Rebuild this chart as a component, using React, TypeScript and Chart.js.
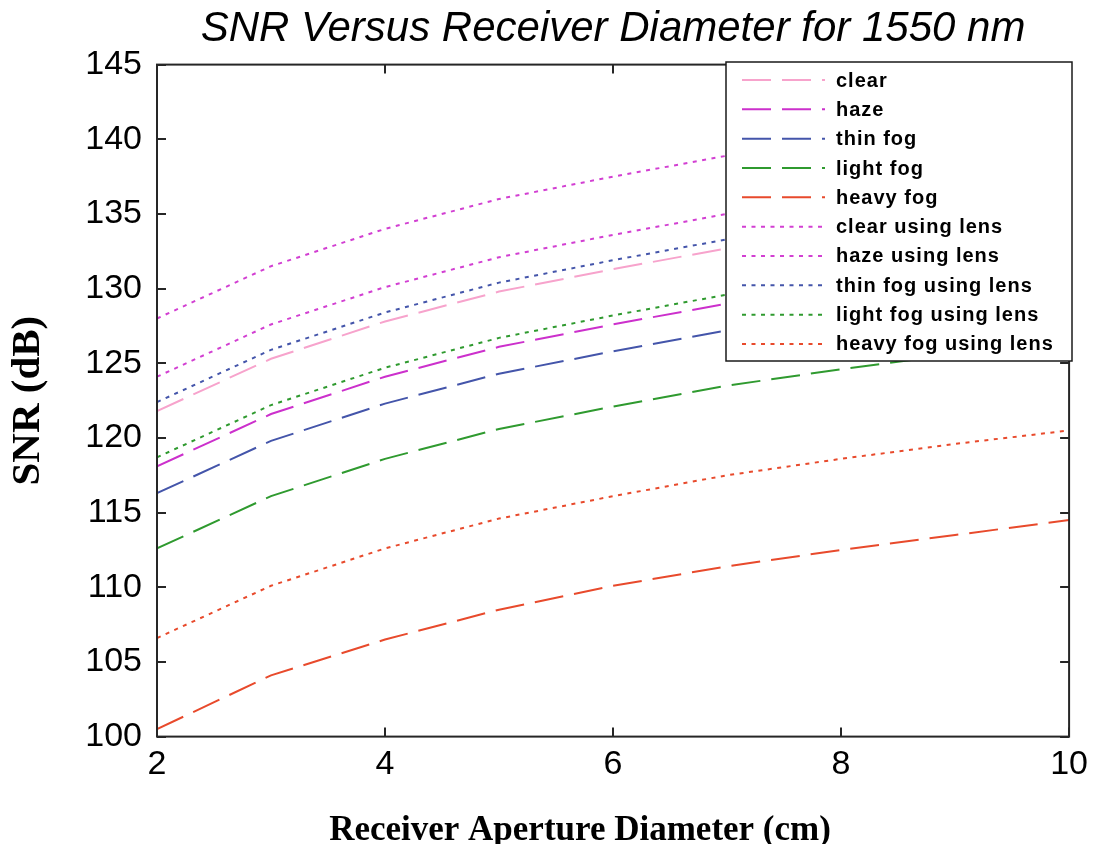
import React, { useEffect, useRef } from "react";
import { Chart, registerables } from "chart.js";

Chart.register(...registerables);

const diameters = [2, 3, 4, 5, 6, 7, 8, 9, 10];

const clear = [121.8, 125.3, 127.8, 129.8, 131.3, 132.7, 133.8, 134.8, 135.8];
const haze = [118.1, 121.6, 124.1, 126.1, 127.6, 129.0, 130.1, 131.1, 132.1];
const thinFog = [116.3, 119.8, 122.3, 124.3, 125.8, 127.2, 128.3, 129.3, 130.3];
const lightFog = [112.6, 116.1, 118.6, 120.6, 122.1, 123.5, 124.6, 125.6, 126.6];
const heavyFog = [100.5, 104.1, 106.5, 108.5, 110.1, 111.4, 112.5, 113.5, 114.5];
const clearLens = [128.0, 131.5, 134.0, 136.0, 137.5, 138.9, 140.0, 141.0, 142.0];
const hazeLens = [124.1, 127.6, 130.1, 132.1, 133.6, 135.0, 136.1, 137.1, 138.1];
const thinFogLens = [122.4, 125.9, 128.4, 130.4, 131.9, 133.3, 134.4, 135.4, 136.4];
const lightFogLens = [118.7, 122.2, 124.7, 126.7, 128.2, 129.6, 130.7, 131.7, 132.7];
const heavyFogLens = [106.6, 110.1, 112.6, 114.6, 116.1, 117.5, 118.6, 119.6, 120.5];

const seriesLabels = [
  "clear",
  "haze",
  "thin fog",
  "light fog",
  "heavy fog",
  "clear using lens",
  "haze using lens",
  "thin fog using lens",
  "light fog using lens",
  "heavy fog using lens",
];
const seriesValues = [
  clear, haze, thinFog, lightFog, heavyFog,
  clearLens, hazeLens, thinFogLens, lightFogLens, heavyFogLens,
];
const seriesColors = [
  "#f7a3cc", "#cc30cc", "#4455aa", "#2f9a2f", "#e84a2c",
  "#d23fd2", "#d23fd2", "#4455aa", "#2f9a2f", "#e84a2c",
];
const DASHED = [29, 11];
const DOTTED = [4, 5.5];

const xTicks = [2, 4, 6, 8, 10];
const yTicks = [100, 105, 110, 115, 120, 125, 130, 135, 140, 145];

const framePlugin = {
  id: "frameTicks",
  afterDatasetsDraw(chart: any) {
    const { ctx, chartArea } = chart;
    const { left, right, top, bottom } = chartArea;
    const xs = chart.scales.x;
    const ys = chart.scales.y;
    ctx.save();
    ctx.strokeStyle = "#262626";
    ctx.lineWidth = 2;
    ctx.setLineDash([]);
    ctx.strokeRect(left, top, right - left, bottom - top);
    const tl = 9;
    ctx.beginPath();
    xTicks.forEach((v) => {
      const px = Math.round(xs.getPixelForValue(v));
      ctx.moveTo(px, bottom);
      ctx.lineTo(px, bottom - tl);
      ctx.moveTo(px, top);
      ctx.lineTo(px, top + tl);
    });
    yTicks.forEach((v) => {
      const py = Math.round(ys.getPixelForValue(v));
      ctx.moveTo(left, py);
      ctx.lineTo(left + tl, py);
      ctx.moveTo(right, py);
      ctx.lineTo(right - tl, py);
    });
    ctx.stroke();
    ctx.restore();
  },
};

const legendPlugin = {
  id: "overlayLegend",
  afterDraw(chart: any) {
    const { ctx } = chart;
    const bx = 726, by = 62, bw = 346, bh = 299;
    ctx.save();
    ctx.fillStyle = "#ffffff";
    ctx.fillRect(bx, by, bw, bh);
    ctx.strokeStyle = "#1a1a1a";
    ctx.lineWidth = 1.5;
    ctx.setLineDash([]);
    ctx.strokeRect(bx, by, bw, bh);
    chart.data.datasets.forEach((ds: any, i: number) => {
      const y = 80 + i * 29.33;
      ctx.strokeStyle = ds.borderColor;
      ctx.lineWidth = 2;
      ctx.setLineDash(ds.borderDash || []);
      ctx.beginPath();
      ctx.moveTo(742, y);
      ctx.lineTo(825, y);
      ctx.stroke();
      ctx.setLineDash([]);
      ctx.fillStyle = "#000000";
      ctx.font = "bold 20px 'Liberation Sans', Arial, sans-serif";
      (ctx as any).letterSpacing = "1px";
      ctx.textBaseline = "middle";
      ctx.textAlign = "left";
      ctx.fillText(ds.label, 836, y + 1);
    });
    ctx.restore();
  },
};

const xTitlePlugin = {
  id: "xTitle",
  afterDraw(chart: any) {
    const { ctx } = chart;
    ctx.save();
    ctx.fillStyle = "#000000";
    ctx.font = "bold 35px 'Liberation Serif', 'Times New Roman', serif";
    ctx.textAlign = "center";
    ctx.textBaseline = "alphabetic";
    ctx.fillText("Receiver Aperture Diameter (cm)", 580, 840);
    ctx.restore();
  },
};

export default function App() {
  const canvasRef = useRef<HTMLCanvasElement | null>(null);

  useEffect(() => {
    document.body.style.margin = "0";
    const canvas = canvasRef.current;
    if (!canvas) return;
    const datasets = seriesLabels.map((label, i) => ({
      label,
      data: diameters.map((d, j) => ({ x: d, y: seriesValues[i][j] })),
      borderColor: seriesColors[i],
      backgroundColor: seriesColors[i],
      borderWidth: 2,
      borderDash: i < 5 ? DASHED : DOTTED,
      pointRadius: 0,
      tension: 0,
      fill: false,
    }));
    const chart = new Chart(canvas, {
      type: "line",
      data: { datasets },
      options: {
        animation: false,
        responsive: false,
        devicePixelRatio: 1,
        layout: { padding: { left: 0, right: 26, top: 0, bottom: 0 } },
        plugins: {
          legend: { display: false },
          tooltip: { enabled: false },
          title: {
            display: true,
            fullSize: false,
            text: "SNR Versus Receiver Diameter for 1550 nm",
            color: "#000000",
            font: { family: "'Liberation Sans', Arial, sans-serif", size: 42, style: "italic", weight: "normal", lineHeight: 1.1 },
            padding: { top: 6, bottom: 12.4 },
          },
        },
        scales: {
          x: {
            type: "linear",
            min: 2,
            max: 10,
            grid: { display: false, drawTicks: false },
            border: { display: false },
            afterFit: (s: any) => { s.height = 107.4; },
            afterBuildTicks: (s: any) => { s.ticks = xTicks.map((v) => ({ value: v })); },
            ticks: {
              color: "#000000",
              padding: 8,
              maxRotation: 0,
              font: { family: "'Liberation Sans', Arial, sans-serif", size: 34 },
            },
            title: { display: false },
          },
          y: {
            type: "linear",
            min: 100,
            max: 145,
            grid: { display: false, drawTicks: false },
            border: { display: false },
            afterFit: (s: any) => { s.width = 157; },
            afterBuildTicks: (s: any) => { s.ticks = yTicks.map((v) => ({ value: v })); },
            ticks: {
              color: "#000000",
              padding: 15,
              font: { family: "'Liberation Sans', Arial, sans-serif", size: 34 },
            },
            title: {
              display: true,
              text: "SNR (dB)",
              color: "#000000",
              padding: { top: 4, bottom: 0 },
              font: { family: "'Liberation Serif', 'Times New Roman', serif", size: 41, weight: "bold", lineHeight: 1.2 },
            },
          },
        },
      },
      plugins: [framePlugin, legendPlugin, xTitlePlugin],
    } as any);
    return () => chart.destroy();
  }, []);

  return (
    <div style={{ width: 1096, height: 844, background: "#ffffff" }}>
      <canvas ref={canvasRef} width={1096} height={844} />
    </div>
  );
}
